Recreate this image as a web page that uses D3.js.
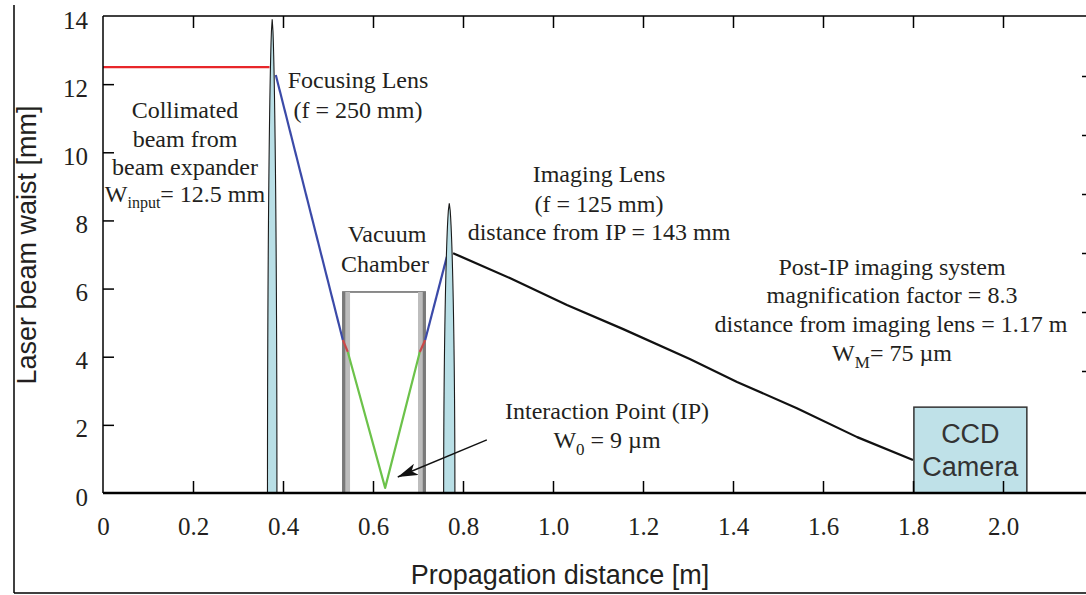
<!DOCTYPE html>
<html>
<head>
<meta charset="utf-8">
<script src="https://cdn.jsdelivr.net/npm/d3@7"></script>
<style>
  html, body { margin: 0; padding: 0; background: #fff; }
  svg { display: block; }
</style>
</head>
<body>
<svg id="chart" width="1086" height="595"></svg>
<script>
// ---------------- data ----------------
const xTicks = [0, 0.2, 0.4, 0.6, 0.8, 1.0, 1.2, 1.4, 1.6, 1.8, 2.0];
const xTickLabels = ["0", "0.2", "0.4", "0.6", "0.8", "1.0", "1.2", "1.4", "1.6", "1.8", "2.0"];
const yTicks = [0, 2, 4, 6, 8, 10, 12, 14];
const yTickLabels = ["0", "2", "4", "6", "8", "10", "12", "14"];
const rightTicks = [2, 3, 4, 5, 6, 7];

// beam waist along propagation (m, mm)
const inputBeamX = [0, 0.37];
const inputBeamY = [12.5, 12.5];
const focusBeamX = [0.384, 0.533];
const focusBeamY = [12.27, 4.49];
const wallInX = [0.533, 0.544];
const wallInY = [4.49, 4.14];
const chamberBeamX = [0.544, 0.627, 0.704];
const chamberBeamY = [4.14, 0.15, 4.14];
const wallOutX = [0.704, 0.716];
const wallOutY = [4.14, 4.49];
const exitBeamX = [0.716, 0.764];
const exitBeamY = [4.49, 6.93];
const imagedBeamX = [0.778, 0.904, 1.031, 1.156, 1.304, 1.409, 1.542, 1.676, 1.8];
const imagedBeamY = [7.04, 6.31, 5.52, 4.81, 3.93, 3.26, 2.49, 1.64, 0.97];

// optical elements
const lensCenters = [0.376, 0.7695];
const lensHalfWidths = [0.0105, 0.0125];
const lensHeights = [13.9, 8.5];
const chamberX = [0.533, 0.716];
const chamberHeight = 5.9;
const chamberWall = 0.016;
const ccdX = [1.802, 2.053];
const ccdHeight = 2.52;
const arrowFrom = [0.853, 1.56];
const arrowTo = [0.655, 0.47];

// ---------------- chart ----------------
const svg = d3.select("#chart");
const x = d3.scaleLinear().domain([0, 2.2]).range([103, 1093]);
const y = d3.scaleLinear().domain([0, 14]).range([493, 16]);
const yRight = d3.scaleLinear().domain([0, 8]).range([489, 17]);

const SERIF = "'Liberation Serif', 'Times New Roman', serif";
const SANS = "'Liberation Sans', Arial, sans-serif";
const TXT = "#231f20";

// outer frame
svg.append("line").attr("x1", 14).attr("y1", 5).attr("x2", 14).attr("y2", 593)
  .attr("stroke", "#000").attr("stroke-width", 1.5);
svg.append("line").attr("x1", 14).attr("y1", 593).attr("x2", 1086).attr("y2", 593)
  .attr("stroke", "#000").attr("stroke-width", 1.5);

// vacuum chamber
const ch = svg.append("g");
ch.append("rect")
  .attr("x", x(chamberX[0])).attr("y", y(chamberHeight))
  .attr("width", x(chamberX[1]) - x(chamberX[0]))
  .attr("height", y(0) - y(chamberHeight))
  .attr("fill", "none").attr("stroke", "#666").attr("stroke-width", 1.5);
[[chamberX[0], chamberX[0] + chamberWall], [chamberX[1] - chamberWall, chamberX[1]]].forEach((w, i) => {
  ch.append("rect")
    .attr("x", x(w[0])).attr("y", y(chamberHeight))
    .attr("width", x(w[1]) - x(w[0])).attr("height", y(0) - y(chamberHeight))
    .attr("fill", "#bdbdbd");
  const edge = i === 0 ? w[0] : w[1];
  ch.append("line")
    .attr("x1", x(edge) + (i === 0 ? 1.2 : -1.2)).attr("x2", x(edge) + (i === 0 ? 1.2 : -1.2))
    .attr("y1", y(chamberHeight)).attr("y2", y(0))
    .attr("stroke", "#7a7a7a").attr("stroke-width", 2.5);
});

// beams
const line = d3.line().x(d => x(d[0])).y(d => y(d[1]));
function drawBeam(xs, ys, color, width) {
  svg.append("path").datum(xs.map((v, i) => [v, ys[i]]))
    .attr("d", line).attr("fill", "none").attr("stroke", color)
    .attr("stroke-width", width).attr("stroke-linejoin", "round");
}
drawBeam(inputBeamX, inputBeamY, "#e8262a", 2.2);
drawBeam(focusBeamX, focusBeamY, "#3b4aa8", 2.2);
drawBeam(wallInX, wallInY, "#c94848", 2.2);
drawBeam(chamberBeamX, chamberBeamY, "#6cc24a", 2.2);
drawBeam(wallOutX, wallOutY, "#c94848", 2.2);
drawBeam(exitBeamX, exitBeamY, "#3b4aa8", 2.2);
drawBeam(imagedBeamX, imagedBeamY, "#111", 2.2);

// lenses
lensCenters.forEach((c, i) => {
  const h = lensHeights[i], hw = lensHalfWidths[i];
  const n = 40;
  const pts = [];
  for (let k = 0; k <= n; k++) {
    const yy = h * k / n;
    pts.push([c - hw * Math.pow(1 - Math.pow(yy / h, 2), 0.6), yy]);
  }
  for (let k = n; k >= 0; k--) {
    const yy = h * k / n;
    pts.push([c + hw * Math.pow(1 - Math.pow(yy / h, 2), 0.6), yy]);
  }
  svg.append("path").datum(pts).attr("d", line)
    .attr("fill", "#b9dfe6").attr("stroke", "#1a1a1a").attr("stroke-width", 1.1);
});

// CCD camera
svg.append("rect")
  .attr("x", x(ccdX[0])).attr("y", y(ccdHeight))
  .attr("width", x(ccdX[1]) - x(ccdX[0])).attr("height", y(0) - y(ccdHeight))
  .attr("fill", "#bfe1e8").attr("stroke", "#333").attr("stroke-width", 1.5);
const ccdCx = (x(ccdX[0]) + x(ccdX[1])) / 2;
svg.append("text").attr("x", ccdCx).attr("y", 443).attr("text-anchor", "middle")
  .attr("font-family", SANS).attr("font-size", 27).attr("fill", "#333").text("CCD");
svg.append("text").attr("x", ccdCx).attr("y", 476).attr("text-anchor", "middle")
  .attr("font-family", SANS).attr("font-size", 27).attr("fill", "#333").text("Camera");

// arrow
svg.append("defs").append("marker")
  .attr("id", "arr").attr("viewBox", "0 0 20 12").attr("refX", 20).attr("refY", 6)
  .attr("markerWidth", 20).attr("markerHeight", 12).attr("markerUnits", "userSpaceOnUse")
  .attr("orient", "auto")
  .append("path").attr("d", "M0,0 L20,6 L0,12 L5,6 Z").attr("fill", "#111");
svg.append("line")
  .attr("x1", x(arrowFrom[0])).attr("y1", y(arrowFrom[1]))
  .attr("x2", x(arrowTo[0])).attr("y2", y(arrowTo[1]))
  .attr("stroke", "#111").attr("stroke-width", 1.4).attr("marker-end", "url(#arr)");

// annotations
function serifText(cx, baseline, parts) {
  const t = svg.append("text").attr("x", cx).attr("y", baseline).attr("text-anchor", "middle")
    .attr("font-family", SERIF).attr("font-size", 24).attr("fill", TXT);
  parts.forEach(p => {
    if (typeof p === "string") t.append("tspan").text(p);
    else t.append("tspan").attr("font-size", p.size).attr("dy", p.dy).text(p.t);
  });
  return t;
}
serifText(185, 118, ["Collimated"]);
serifText(185, 147, ["beam from"]);
serifText(185, 175, ["beam expander"]);
serifText(185, 202, ["W", {t: "input", size: 16, dy: 6}, {t: "= 12.5 mm", size: 24, dy: -6}]);

serifText(358, 88, ["Focusing Lens"]);
serifText(358, 118, ["(f = 250 mm)"]);

serifText(387, 242, ["Vacuum"]);
serifText(385, 272, ["Chamber"]);

serifText(599, 182, ["Imaging Lens"]);
serifText(599, 212, ["(f = 125 mm)"]);
serifText(599, 240, ["distance from IP = 143 mm"]);

serifText(892, 275, ["Post-IP imaging system"]);
serifText(892, 303, ["magnification factor = 8.3"]);
serifText(891, 332, ["distance from imaging lens = 1.17 m"]);
serifText(892, 361, ["W", {t: "M", size: 17, dy: 7}, {t: "= 75 \u00b5m", size: 24, dy: -7}]);

serifText(607, 419, ["Interaction Point (IP)"]);
serifText(607, 448, ["W", {t: "0", size: 17, dy: 7}, {t: " = 9 \u00b5m", size: 24, dy: -7}]);

// axes
const gB = svg.append("g").attr("transform", `translate(0,${y(0)})`)
  .call(d3.axisBottom(x).tickValues(xTicks).tickSize(-12).tickSizeOuter(0)
    .tickFormat((d, i) => xTickLabels[i]));
gB.select(".domain").attr("stroke-width", 2.5).attr("d", `M${x(0)},0H${x(2.2)}`);
gB.selectAll(".tick line").attr("stroke-width", 1.5);
gB.selectAll(".tick text").attr("y", 42).attr("dy", 0)
  .attr("font-family", SERIF).attr("font-size", 25).attr("fill", TXT);
gB.selectAll(".tick").filter(d => d === 0).select("line").remove();

const gT = svg.append("g").attr("transform", `translate(0,${y(14)})`)
  .call(d3.axisTop(x).tickValues(xTicks.slice(1)).tickSize(-12).tickSizeOuter(0).tickFormat(""));
gT.select(".domain").attr("stroke-width", 1.5).attr("d", `M${x(0)},0H${x(2.2)}`);
gT.selectAll(".tick line").attr("stroke-width", 1.5);

const gL = svg.append("g").attr("transform", `translate(${x(0)},0)`)
  .call(d3.axisLeft(y).tickValues(yTicks).tickSize(-11).tickSizeOuter(0).tickPadding(15)
    .tickFormat((d, i) => yTickLabels[i]));
gL.select(".domain").attr("stroke-width", 1.5).attr("d", `M0,${y(0)}V${y(14)}`);
gL.selectAll(".tick line").attr("stroke-width", 1.5);
gL.selectAll(".tick").filter(d => d === 0 || d === 14).select("line").remove();
gL.selectAll(".tick text").attr("dy", 12)
  .attr("font-family", SERIF).attr("font-size", 25).attr("fill", TXT);

const gR = svg.append("g").attr("transform", `translate(${x(2.2)},0)`)
  .call(d3.axisRight(yRight).tickValues(rightTicks).tickSize(-11).tickSizeOuter(0).tickFormat(""));
gR.select(".domain").attr("stroke-width", 1.5);
gR.selectAll(".tick line").attr("stroke-width", 1.5);

// axis titles
svg.append("text").attr("x", 560).attr("y", 584).attr("text-anchor", "middle")
  .attr("font-family", SANS).attr("font-size", 27).attr("fill", TXT)
  .text("Propagation distance [m]");
svg.append("text").attr("transform", "translate(36,245) rotate(-90)").attr("text-anchor", "middle")
  .attr("font-family", SANS).attr("font-size", 27).attr("fill", TXT)
  .text("Laser beam waist [mm]");
</script>
</body>
</html>
